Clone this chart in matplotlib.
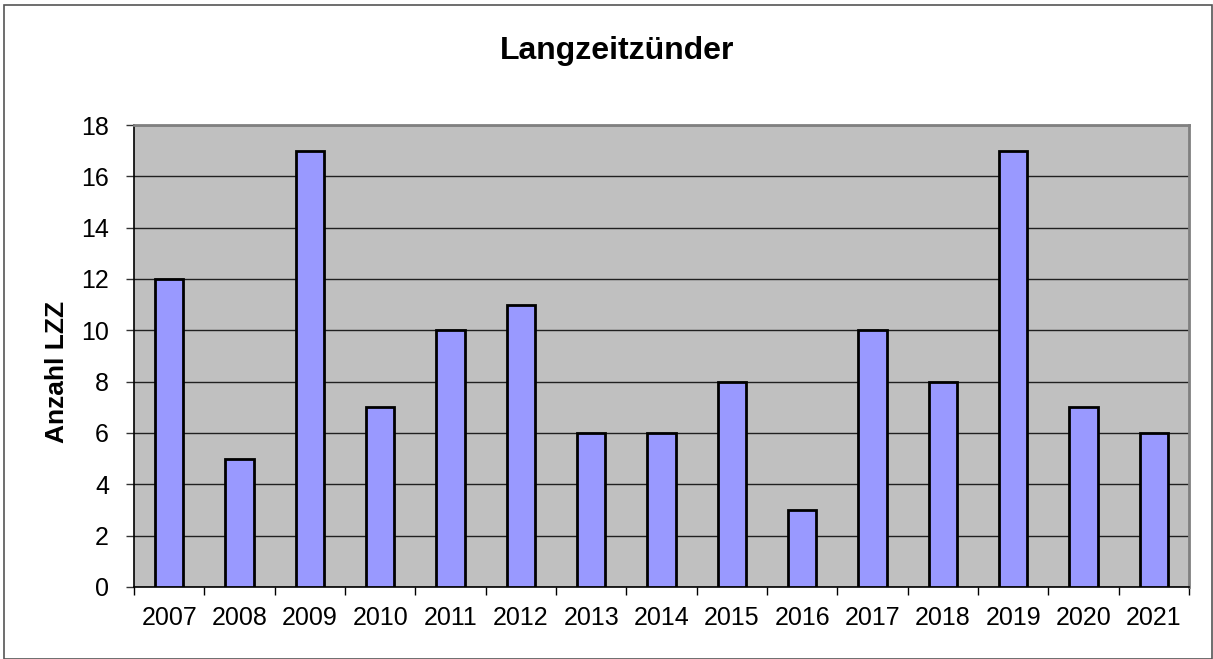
import numpy as np
import matplotlib.pyplot as plt
from matplotlib.patches import Rectangle

# Daten: Langzeitzuender pro Jahr
years = ['2007', '2008', '2009', '2010', '2011', '2012', '2013', '2014',
         '2015', '2016', '2017', '2018', '2019', '2020', '2021']
counts = [12, 5, 17, 7, 10, 11, 6, 6, 8, 3, 10, 8, 17, 7, 6]

plt.rcParams['font.family'] = ['Liberation Sans', 'DejaVu Sans']

fig = plt.figure(figsize=(12.13, 6.59), dpi=100)
ax = fig.add_axes([0.1105, 0.1093, 0.8697, 0.701])

# outer chart border
fig.patches.append(Rectangle((0.003, 0.0), 0.996, 0.992, transform=fig.transFigure,
                             fill=False, edgecolor='#555555', linewidth=1.2))

x = np.arange(len(years))
ax.set_facecolor('#C0C0C0')
ax.set_axisbelow(True)
ax.yaxis.grid(True, color='#202020', linewidth=1.0)
ax.bar(x, counts, width=0.4, color='#9999FF', edgecolor='black', linewidth=2.0, zorder=3)

ax.set_xlim(-0.5, len(years) - 0.5)
ax.set_ylim(0, 18)
ax.set_yticks(range(0, 19, 2))
ax.set_xticks(x)
ax.set_xticklabels(years)
ax.set_xticks(np.arange(-0.5, len(years)), minor=True)
ax.tick_params(axis='x', which='major', length=0, labelsize=18, pad=14)
ax.tick_params(axis='x', which='minor', length=6, width=1, color='black')
ax.tick_params(axis='y', length=6, width=1, labelsize=18, color='#333333', pad=12)

for s in ['left', 'bottom']:
    ax.spines[s].set_color('black')
    ax.spines[s].set_linewidth(1.2)
for s in ['top', 'right']:
    ax.spines[s].set_color('#808080')
    ax.spines[s].set_linewidth(2)

fig.text(0.0474, 0.435, 'Anzahl LZZ', rotation=90, ha='center', va='center',
         fontsize=19, fontweight='bold')
fig.text(0.509, 0.922, 'Langzeitzünder', ha='center', va='center',
         fontsize=23, fontweight='bold')

plt.savefig('out.png', dpi=100)
